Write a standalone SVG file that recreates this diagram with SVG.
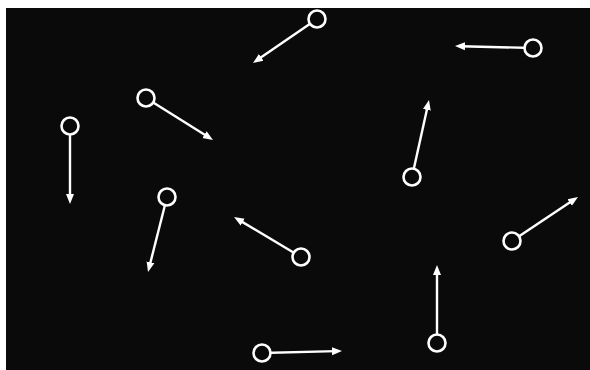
<svg xmlns="http://www.w3.org/2000/svg" width="590" height="370" viewBox="0 0 590 370">
<defs>
<style>
.c{fill:#0a0a0a;stroke:#ffffff;stroke-width:2.6}
.l{stroke:#ffffff;stroke-width:2.4;fill:none;marker-end:url(#ah)}
</style>
<marker id="ah" markerUnits="userSpaceOnUse" viewBox="0 0 10 10" markerWidth="10" markerHeight="10" refX="4" refY="5" orient="auto">
<path d="M0,1 L10,5 L0,9 Z" fill="#ffffff"/>
</marker>
</defs>
<rect x="0" y="0" width="590" height="370" fill="#ffffff"/>
<rect x="6" y="8" width="584" height="362" fill="#0a0a0a"/>
<g id="connectors">
<line class="l" x1="317" y1="19" x2="257.9" y2="59.6"/>
<line class="l" x1="533" y1="48" x2="461" y2="46.2"/>
<line class="l" x1="146" y1="98" x2="207.9" y2="136.8"/>
<line class="l" x1="70" y1="126" x2="70" y2="198"/>
<line class="l" x1="412" y1="177" x2="427.7" y2="105.9"/>
<line class="l" x1="167" y1="197" x2="149.5" y2="266.2"/>
<line class="l" x1="301" y1="257" x2="239.2" y2="220.1"/>
<line class="l" x1="512" y1="241" x2="573" y2="200.3"/>
<line class="l" x1="437" y1="343" x2="437" y2="271"/>
<line class="l" x1="262" y1="353" x2="336" y2="351.15"/>
</g>
<g id="n1"><circle class="c" cx="317" cy="19" r="8.5"/></g>
<g id="n2"><circle class="c" cx="533" cy="48" r="8.5"/></g>
<g id="n3"><circle class="c" cx="146" cy="98" r="8.5"/></g>
<g id="n4"><circle class="c" cx="70" cy="126" r="8.5"/></g>
<g id="n5"><circle class="c" cx="412" cy="177" r="8.5"/></g>
<g id="n6"><circle class="c" cx="167" cy="197" r="8.5"/></g>
<g id="n7"><circle class="c" cx="301" cy="257" r="8.5"/></g>
<g id="n8"><circle class="c" cx="512" cy="241" r="8.5"/></g>
<g id="n9"><circle class="c" cx="437" cy="343" r="8.5"/></g>
<g id="n10"><circle class="c" cx="262" cy="353" r="8.5"/></g>
</svg>
